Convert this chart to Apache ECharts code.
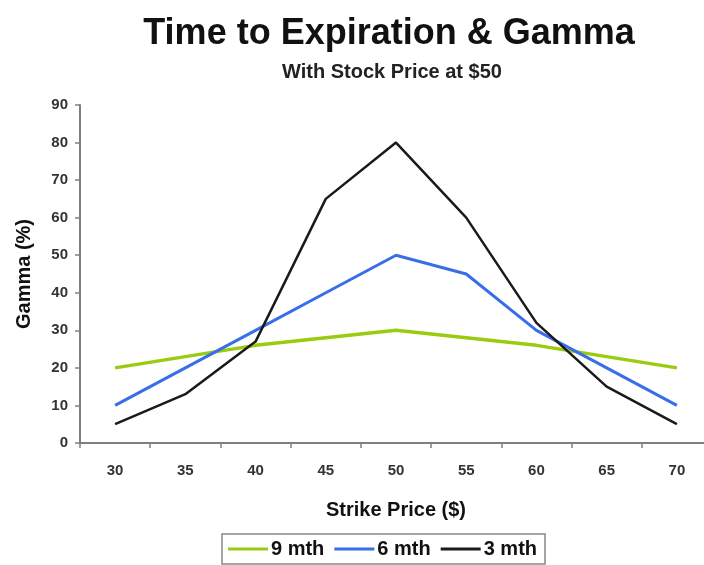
<!DOCTYPE html>
<html>
<head>
<meta charset="utf-8">
<script src="https://cdn.jsdelivr.net/npm/echarts@6/dist/echarts.min.js"></script>
<style>
  html, body { margin: 0; padding: 0; background: #fff; overflow: hidden; }
  /* plot runs a little past the right edge in the original */
  #main { width: 712px; height: 565px; }
</style>
</head>
<body>
<div id="main"></div>
<script>
// strike prices along the x axis
var strikes = ['30', '35', '40', '45', '50', '55', '60', '65', '70'];
// gamma (%) per time to expiration
var gamma9 = [20, 23, 26, 28, 30, 28, 26, 23, 20];
var gamma6 = [10, 20, 30, 40, 50, 45, 30, 20, 10];
var gamma3 = [5, 13, 27, 65, 80, 60, 32, 15, 5];

var font = 'Liberation Sans, Arial, sans-serif';

var chart = echarts.init(document.getElementById('main'));
chart.setOption({
  animation: false,
  title: [{
    text: 'Time to Expiration & Gamma',
    left: 384, top: 11, textAlign: 'center',
    textStyle: { fontFamily: font, fontSize: 36, fontWeight: 'bold', color: '#111' }
  }, {
    text: 'With Stock Price at $50',
    left: 387, top: 57, textAlign: 'center',
    textStyle: { fontFamily: font, fontSize: 20, fontWeight: 'bold', color: '#222' }
  }],
  grid: { left: 80, right: 0, top: 105, bottom: 122 },
  legend: {
    top: 534, left: 222,
    itemWidth: 40, itemHeight: 3, itemGap: 10,
    icon: 'rect',
    padding: [5, 8, 5, 6],
    borderColor: '#888', borderWidth: 1.5,
    textStyle: { fontFamily: font, fontSize: 20, fontWeight: 'bold', color: '#111', padding: [0, 0, 0, -2] },
    data: ['9 mth', '6 mth', '3 mth']
  },
  xAxis: {
    type: 'category',
    data: strikes,
    boundaryGap: true,
    name: 'Strike Price ($)',
    nameLocation: 'middle',
    nameGap: 57,
    nameTextStyle: { fontFamily: font, fontSize: 20, fontWeight: 'bold', color: '#111', verticalAlign: 'top' },
    axisLine: { lineStyle: { color: '#808080', width: 2 } },
    axisTick: { show: true, length: 5, lineStyle: { color: '#808080', width: 1.5 } },
    axisLabel: { fontFamily: font, fontSize: 15, fontWeight: 'bold', color: '#333', margin: 20 }
  },
  yAxis: {
    type: 'value',
    min: 0, max: 90, interval: 10,
    name: 'Gamma (%)',
    nameLocation: 'middle',
    nameGap: 46,
    nameTextStyle: { fontFamily: font, fontSize: 20, fontWeight: 'bold', color: '#111' },
    axisLine: { show: true, lineStyle: { color: '#808080', width: 2 } },
    axisTick: { show: true, length: 5, lineStyle: { color: '#808080', width: 1.5 } },
    splitLine: { show: false },
    axisLabel: { fontFamily: font, fontSize: 15, fontWeight: 'bold', color: '#333', margin: 12 }
  },
  series: [{
    name: '9 mth', type: 'line', data: gamma9,
    symbol: 'none', lineStyle: { color: '#99cc11', width: 3.5 }, itemStyle: { color: '#99cc11' }
  }, {
    name: '6 mth', type: 'line', data: gamma6,
    symbol: 'none', lineStyle: { color: '#3a6ee8', width: 3 }, itemStyle: { color: '#3a6ee8' }
  }, {
    name: '3 mth', type: 'line', data: gamma3,
    symbol: 'none', lineStyle: { color: '#1a1a1a', width: 2.5 }, itemStyle: { color: '#1a1a1a' }
  }]
});
</script>
</body>
</html>
